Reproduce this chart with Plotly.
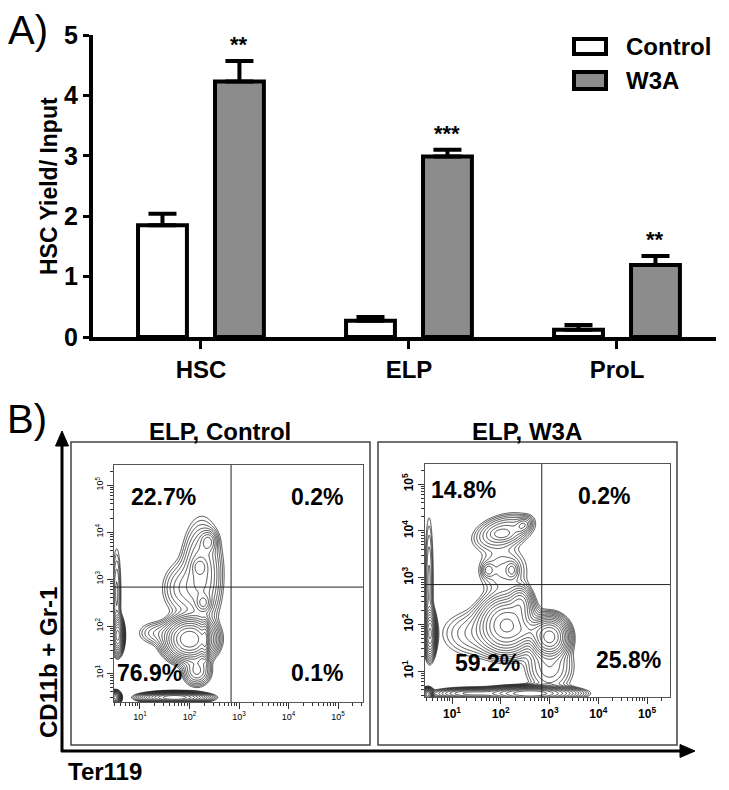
import numpy as np
import plotly.graph_objects as go

W, H = 729, 790
FONT = "Liberation Sans, Arial, Helvetica, sans-serif"

# ---------------- Panel A data ----------------
categories = ["HSC", "ELP", "ProL"]
series_names = ["Control", "W3A"]
control_mean = [1.85, 0.27, 0.12]
control_sem = [0.19, 0.06, 0.08]
w3a_mean = [4.23, 2.99, 1.19]
w3a_sem = [0.34, 0.11, 0.15]
significance = ["**", "***", "**"]
y_ticks = [0, 1, 2, 3, 4, 5]

# ---------------- Panel B data ----------------
panel_titles = ["ELP, Control", "ELP, W3A"]
quadrants_control = ["22.7%", "0.2%", "76.9%", "0.1%"]   # UL, UR, LL, LR
quadrants_w3a = ["14.8%", "0.2%", "59.2%", "25.8%"]
gate_control = [2.84, 2.83]   # log10 Ter119, log10 CD11b+Gr-1
gate_w3a = [2.84, 2.85]
decades = [1, 2, 3, 4, 5]
axis_x_title = "Ter119"
axis_y_title = "CD11b + Gr-1"

# cell populations:
# (log10 Ter119 centre, log10 CD11b+Gr-1 centre, spread x, spread y, correlation, peak weight)
pops_control = [
    (2.00, 1.72, 0.22, 0.20, 0.00, 1.00),   # main cluster
    (2.32, 1.70, 0.035, 0.20, 0.00, 0.30),  # dense right ridge
    (2.25, 3.10, 0.20, 0.55, 0.00, 0.10),   # CD11b+ column
    (1.85, 2.80, 0.22, 0.30, 0.00, 0.04),   # column left shoulder
    (2.28, 2.49, 0.08, 0.10, 0.00, 0.10),
    (2.20, 3.26, 0.08, 0.10, 0.00, 0.08),
    (2.38, 3.80, 0.09, 0.12, 0.00, 0.08),
    (1.35, 1.85, 0.22, 0.14, 0.00, 0.03),   # left tail
    (2.15, 1.05, 0.14, 0.16, 0.00, 0.10),   # lower extension
    (1.70, 0.48, 0.28, 0.05, 0.00, 1.00),   # axis-pile band
    (0.50, 0.48, 0.05, 0.06, 0.00, 0.60),   # corner
    (0.55, 1.80, 0.055, 0.17, 0.00, 0.60),  # left strip
    (0.53, 2.70, 0.05, 0.55, 0.00, 0.035),
]
pops_w3a = [
    (2.05, 3.98, 0.30, 0.19, 0.35, 0.08),   # top envelope
    (2.46, 4.12, 0.09, 0.09, 0.30, 0.07),
    (2.02, 3.93, 0.13, 0.07, 0.00, 0.04),
    (2.05, 3.15, 0.28, 0.30, 0.00, 0.035),  # link column
    (1.74, 3.16, 0.07, 0.09, 0.00, 0.04),
    (2.23, 3.16, 0.07, 0.10, 0.00, 0.05),
    (2.12, 1.98, 0.26, 0.28, 0.00, 0.55),   # middle cluster
    (2.40, 2.45, 0.12, 0.18, 0.00, 0.15),
    (1.50, 1.80, 0.40, 0.28, 0.00, 0.035),
    (3.00, 1.73, 0.17, 0.19, 0.00, 0.85),   # Ter119+ cluster
    (2.60, 1.85, 0.20, 0.12, 0.00, 0.12),
    (3.00, 1.10, 0.25, 0.30, 0.00, 0.06),
    (2.60, 0.52, 0.40, 0.065, 0.00, 1.00),  # axis-pile band
    (1.40, 0.52, 0.35, 0.055, 0.00, 0.20),
    (0.50, 0.50, 0.05, 0.06, 0.00, 0.60),   # corner
    (0.55, 1.80, 0.055, 0.22, 0.00, 0.55),  # left strip
    (0.53, 2.90, 0.05, 0.80, 0.00, 0.035),
]


def px(x):
    return x / W


def py(y):
    return 1 - y / H


def log_density(pops, gx, gy):
    X, Y = np.meshgrid(gx, gy)
    Z = np.zeros_like(X)
    for cx, cy, sx, sy, r, w in pops:
        dx = (X - cx) / sx
        dy = (Y - cy) / sy
        q = (dx * dx - 2 * r * dx * dy + dy * dy) / (1 - r * r)
        Z += w * np.exp(-0.5 * q)
    return np.log10(Z / Z.max() + 1e-12)


fig = go.Figure()

# ---------------- Panel A: bars ----------------
bw = 0.235
half_gap = 0.185
fig.add_trace(go.Bar(
    x=categories, y=control_mean, name=series_names[0],
    width=bw, offset=-half_gap - bw / 2,
    marker=dict(color="white", line=dict(color="black", width=4)),
    error_y=dict(type="data", array=control_sem, arrayminus=[0] * len(categories),
                 symmetric=False, thickness=4, width=14, color="black"),
    xaxis="x", yaxis="y", showlegend=False, hoverinfo="skip"))
fig.add_trace(go.Bar(
    x=categories, y=w3a_mean, name=series_names[1],
    width=bw, offset=half_gap - bw / 2,
    marker=dict(color="#8c8c8c", line=dict(color="black", width=4)),
    error_y=dict(type="data", array=w3a_sem, arrayminus=[0] * len(categories),
                 symmetric=False, thickness=4, width=14, color="black"),
    xaxis="x", yaxis="y", showlegend=False, hoverinfo="skip"))

annotations = []
for i, s in enumerate(significance):
    annotations.append(dict(
        x=i + half_gap, y=w3a_mean[i] + w3a_sem[i] + 0.03, xref="x", yref="y",
        text=s, showarrow=False, xanchor="center", yanchor="bottom",
        font=dict(family=FONT, size=22, color="black", weight="bold")))

# ---------------- Panel B: contour plots ----------------
gx = np.linspace(0.2, 5.8, 360)
gy = np.linspace(0.2, 5.8, 360)
for pops, xa, ya in [(pops_control, "x2", "y2"), (pops_w3a, "x3", "y3")]:
    Z = log_density(pops, gx, gy)
    fig.add_trace(go.Contour(
        x=gx, y=gy, z=Z, xaxis=xa, yaxis=ya,
        contours=dict(coloring="lines", start=-2.1, end=-0.1, size=0.15),
        colorscale=[[0, "#1e1e1e"], [1, "#1e1e1e"]], showscale=False,
        line=dict(width=0.8, smoothing=1), hoverinfo="skip"))

decade_text = ["10<sup>%d</sup>" % d for d in decades]
minor_vals = [np.log10(k * 10.0 ** n) for n in range(0, 6) for k in range(2, 10)]


def flow_axis(domain, rng, size, bold, angle=0):
    return dict(
        domain=domain, range=rng, showgrid=False, zeroline=False, automargin=False,
        showline=True, mirror=True, linecolor="#555", linewidth=1,
        tickmode="array", tickvals=decades, ticktext=decade_text,
        ticks="outside", ticklen=6, tickwidth=1, tickcolor="#333",
        tickangle=angle,
        tickfont=dict(family=FONT, size=size, color="black",
                      weight="bold" if bold else "normal"),
        minor=dict(tickvals=minor_vals, ticks="outside", ticklen=3,
                   tickwidth=1, tickcolor="#333"))


shapes = []
# gates
for (gxv, gyv), xa, ya in [(gate_control, "x2", "y2"), (gate_w3a, "x3", "y3")]:
    shapes.append(dict(type="line", xref=xa, yref=ya + " domain", x0=gxv, x1=gxv,
                       y0=0, y1=1, line=dict(color="#222", width=1)))
    shapes.append(dict(type="line", xref=xa + " domain", yref=ya, x0=0, x1=1,
                       y0=gyv, y1=gyv, line=dict(color="#222", width=1)))

# outer panel boxes
for x0, x1 in [(71, 370), (378, 677)]:
    shapes.append(dict(type="rect", xref="paper", yref="paper",
                       x0=px(x0), x1=px(x1), y0=py(745), y1=py(442),
                       line=dict(color="#444", width=1.5)))

# axis arrows
shapes.append(dict(type="line", xref="paper", yref="paper", x0=px(62), x1=px(62),
                   y0=py(752), y1=py(442), line=dict(color="black", width=3)))
shapes.append(dict(type="path", xref="paper", yref="paper",
                   path="M %f %f L %f %f L %f %f Z" % (px(62), py(431), px(55.5), py(446), px(68.5), py(446)),
                   fillcolor="black", line=dict(color="black", width=1)))
shapes.append(dict(type="line", xref="paper", yref="paper", x0=px(61), x1=px(684),
                   y0=py(751), y1=py(751), line=dict(color="black", width=3)))
shapes.append(dict(type="path", xref="paper", yref="paper",
                   path="M %f %f L %f %f L %f %f Z" % (px(695), py(751), px(680), py(744.5), px(680), py(757.5)),
                   fillcolor="black", line=dict(color="black", width=1)))

# manual legend for panel A
for (y0, y1), fill, name in [((39, 54), "white", series_names[0]), ((72, 89), "#8c8c8c", series_names[1])]:
    shapes.append(dict(type="rect", xref="paper", yref="paper",
                       x0=px(574), x1=px(606), y0=py(y1), y1=py(y0),
                       fillcolor=fill, line=dict(color="black", width=4)))
    annotations.append(dict(x=px(624), y=py((y0 + y1) / 2), xref="paper", yref="paper",
                            text=name, showarrow=False, xanchor="left", yanchor="middle",
                            font=dict(family=FONT, size=24, color="black", weight="bold")))

# panel letters
annotations.append(dict(x=px(6), y=py(30), xref="paper", yref="paper", text="A)",
                        showarrow=False, xanchor="left", yanchor="middle",
                        font=dict(family=FONT, size=40, color="black")))
annotations.append(dict(x=px(5), y=py(419), xref="paper", yref="paper", text="B)",
                        showarrow=False, xanchor="left", yanchor="middle",
                        font=dict(family=FONT, size=40, color="black")))

# y title for panel A
annotations.append(dict(x=px(49), y=py(186), xref="paper", yref="paper",
                        text="HSC Yield/ Input", textangle=-90, showarrow=False,
                        xanchor="center", yanchor="middle",
                        font=dict(family=FONT, size=23, color="black", weight="bold")))

# panel B titles and axis labels
for t, xc in zip(panel_titles, [220, 527]):
    annotations.append(dict(x=px(xc), y=py(431), xref="paper", yref="paper", text=t,
                            showarrow=False, xanchor="center", yanchor="middle",
                            font=dict(family=FONT, size=24, color="black", weight="bold")))
annotations.append(dict(x=px(48), y=py(663), xref="paper", yref="paper", text=axis_y_title,
                        textangle=-90, showarrow=False, xanchor="center", yanchor="middle",
                        font=dict(family=FONT, size=24, color="black", weight="bold")))
annotations.append(dict(x=px(66), y=py(771), xref="paper", yref="paper", text=axis_x_title,
                        showarrow=False, xanchor="left", yanchor="middle",
                        font=dict(family=FONT, size=24, color="black", weight="bold")))

# quadrant percentages (positions in log units of each plot)
q_pos_control = [(1.48, 4.74), (4.58, 4.74), (1.20, 1.00), (4.58, 1.00)]
q_pos_w3a = [(1.23, 4.87), (4.12, 4.74), (1.72, 1.17), (4.61, 1.24)]
for labels, pos, xa, ya in [(quadrants_control, q_pos_control, "x2", "y2"),
                            (quadrants_w3a, q_pos_w3a, "x3", "y3")]:
    for lab, (qx, qy) in zip(labels, pos):
        annotations.append(dict(x=qx, y=qy, xref=xa, yref=ya, text=lab, showarrow=False,
                                xanchor="center", yanchor="middle",
                                font=dict(family=FONT, size=23, color="black", weight="bold")))

fig.update_layout(
    width=W, height=H, margin=dict(l=0, r=0, t=0, b=0, autoexpand=False),
    paper_bgcolor="white", plot_bgcolor="rgba(0,0,0,0)",
    barmode="overlay", showlegend=False,
    font=dict(family=FONT, color="black"),
    xaxis=dict(domain=[px(93), px(716)], range=[-0.519, 2.476], anchor="y",
               automargin=False,
               showline=True, linecolor="black", linewidth=4,
               ticks="outside", ticklen=8, tickwidth=3, tickcolor="black",
               tickfont=dict(family=FONT, size=24, color="black", weight="bold"),
               showgrid=False, zeroline=False, fixedrange=True),
    yaxis=dict(domain=[py(337), py(35)], range=[0, 5], anchor="x",
               automargin=False,
               tickvals=y_ticks, showline=True, linecolor="black", linewidth=4,
               ticks="outside", ticklen=6, tickwidth=3, tickcolor="black",
               tickfont=dict(family=FONT, size=25, color="black", weight="bold"),
               showgrid=False, zeroline=False, fixedrange=True),
    xaxis2=dict(anchor="y2", **flow_axis([px(114), px(363)], [0.475, 5.505], 9, False)),
    yaxis2=dict(anchor="x2", **flow_axis([py(702), py(465)], [0.383, 5.43], 9, False, -90)),
    xaxis3=dict(anchor="y3", **flow_axis([px(425), px(670)], [0.446, 5.47], 12, True)),
    yaxis3=dict(anchor="x3", **flow_axis([py(697), py(464)], [0.444, 5.43], 12, True, -90)),
    shapes=shapes, annotations=annotations,
)

fig.write_html("out.html", config={"displayModeBar": False},
               post_script="document.body.style.margin='0';")
